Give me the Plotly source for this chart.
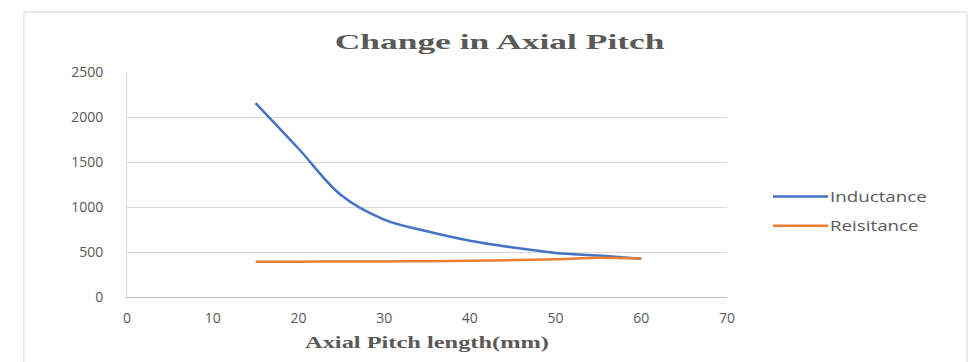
import plotly.graph_objects as go

# Axial pitch sweep (mm) and measured values
pitch_mm = [15, 20, 25, 30, 35, 40, 45, 50, 55, 60]
inductance = [2155, 1650, 1130, 860, 730, 625, 550, 490, 460, 425]
resistance = [393, 393, 394, 395, 397, 402, 410, 420, 436, 427]

x_ticks = [0, 10, 20, 30, 40, 50, 60, 70]
y_ticks = [0, 500, 1000, 1500, 2000, 2500]

GREY_TXT = "#595959"
SANS = "Open Sans, Liberation Sans, sans-serif"
SERIF = "Liberation Serif, Times New Roman, serif"
TICK_FONT = dict(family=SANS, size=14, color=GREY_TXT)

fig = go.Figure()
fig.add_trace(go.Scatter(
    x=pitch_mm, y=inductance, name="Inductance", mode="lines",
    line=dict(color="#4472C4", width=2.5, shape="spline", smoothing=1.0),
    legendgroup="a",
))
fig.add_trace(go.Scatter(
    x=pitch_mm, y=resistance, name="Reisitance", mode="lines",
    line=dict(color="#ED7D31", width=2.5, shape="spline", smoothing=0.6),
    legendgroup="b",
))

fig.update_layout(
    width=972, height=362,
    margin=dict(l=127, r=245, t=72, b=65),
    paper_bgcolor="white", plot_bgcolor="white",
    title=dict(
        text="<b>Change in Axial Pitch</b>",
        font=dict(family=SERIF, size=22, color=GREY_TXT),
        x=0.514, xanchor="center", y=0.887, yanchor="middle",
    ),
    legend=dict(
        x=1.105, xanchor="left", y=0.38, yanchor="middle",
        font=dict(family=SANS, size=14, color=GREY_TXT),
        bgcolor="rgba(0,0,0,0)", tracegroupgap=8, itemwidth=30,
    ),
    xaxis=dict(
        range=[0, 70], tickvals=x_ticks, ticktext=[str(v) for v in x_ticks],
        showgrid=False, zeroline=False, showline=True, linecolor="#bfbfbf", linewidth=1,
        ticks="", tickfont=TICK_FONT, ticklabelstandoff=8,
    ),
    yaxis=dict(
        range=[0, 2500], tickvals=y_ticks, ticktext=[str(v) for v in y_ticks],
        showgrid=True, gridcolor="#d9d9d9", gridwidth=1, zeroline=False,
        showline=True, linecolor="#d9d9d9", linewidth=1,
        ticks="", tickfont=TICK_FONT, ticklabelstandoff=20,
    ),
    showlegend=True,
)

# x-axis caption
fig.add_annotation(
    text="<b>Axial Pitch length(mm)</b>", xref="paper", yref="paper",
    x=0.5, y=-0.204, xanchor="center", yanchor="middle", showarrow=False,
    font=dict(family=SERIF, size=17, color=GREY_TXT),
)

# chart frame
fig.add_shape(
    type="rect", xref="paper", yref="paper",
    x0=-0.1717, x1=1.4, y0=-0.5, y1=1.2667,
    line=dict(color="#d9d9d9", width=1), fillcolor="rgba(0,0,0,0)", layer="below",
)

# Wide-set lettering for the heading, caption and legend, plus longer legend swatches
post_js = """
var gd = document.getElementById('{plot_id}');
function widen(el, target, origin) {
  var w = el.getBBox().width;
  if (!w) return;
  el.style.transformBox = 'fill-box';
  el.style.transformOrigin = origin;
  el.style.transform = 'scaleX(' + (target / w) + ')';
}
gd.querySelectorAll('g.legend [clip-path]').forEach(function (el) { el.removeAttribute('clip-path'); });
gd.querySelectorAll('text.gtitle').forEach(function (el) { widen(el, 330, 'center'); });
gd.querySelectorAll('text.annotation-text').forEach(function (el) { widen(el, 244, 'center'); });
var legendTexts = gd.querySelectorAll('text.legendtext');
if (legendTexts.length) {
  var k = 97 / legendTexts[0].getBBox().width;
  legendTexts.forEach(function (el) { widen(el, el.getBBox().width * k, 'left center'); });
}
gd.querySelectorAll('g.legendlines path').forEach(function (p) { p.setAttribute('d', 'M-17,0h55'); });
"""

fig.write_html("out.html", post_script=post_js)
